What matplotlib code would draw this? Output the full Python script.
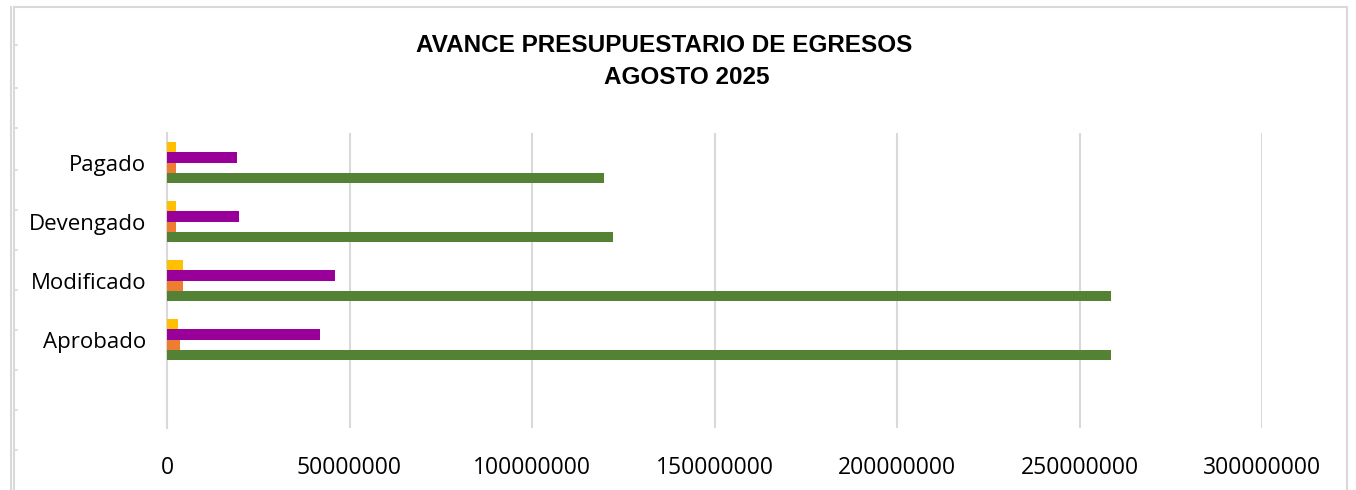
import numpy as np
from matplotlib import pyplot as plt
from matplotlib.patches import Rectangle

categorias = ['', 'Aprobado', 'Modificado', 'Devengado', 'Pagado']
# series drawn bottom to top inside each group
serie_verde = [0, 258500000, 258500000, 122200000, 119700000]
serie_naranja = [0, 3600000, 4300000, 2600000, 2600000]
serie_morada = [0, 41900000, 46000000, 19700000, 19200000]
serie_amarilla = [0, 3100000, 4300000, 2600000, 2600000]
colores = ['#548235', '#ED7D31', '#990099', '#FFC000']
xticks = [0, 50000000, 100000000, 150000000, 200000000, 250000000, 300000000]

fig = plt.figure(figsize=(13.56, 4.9), dpi=100)
ax = fig.add_axes([167/1356, 1 - 428/490, 1095/1356, 295/490])

y = np.arange(len(categorias))
h = 0.172
series = [serie_verde, serie_naranja, serie_morada, serie_amarilla]
for i in range(len(series)):
    vals = np.array(series[i], dtype=float)
    mask = np.arange(len(vals)) > 0
    ax.barh(y[mask] + (i - 1.5) * h, vals[mask], height=h, color=colores[i], zorder=3)

ax.set_xlim(0, 300000000)
ax.set_ylim(-0.5, 4.5)
ax.set_xticks(xticks)
ax.set_xticklabels([str(t) for t in xticks], fontsize=16.5, family='Open Sans')
ax.set_yticks(y[1:])
ax.set_yticklabels(categorias[1:], fontsize=16, family='Open Sans')
ax.tick_params(axis='both', length=0)
ax.tick_params(axis='x', pad=20)
ax.tick_params(axis='y', pad=15)
ax.grid(axis='x', color='#D9D9D9', linewidth=1.5, zorder=0)
for s in ['top', 'right', 'bottom']:
    ax.spines[s].set_visible(False)
ax.spines['left'].set_color('#D9D9D9')
ax.spines['left'].set_linewidth(1.5)

fig.text(664/1356, 1 - 45/490, 'AVANCE PRESUPUESTARIO DE EGRESOS', ha='center', va='center',
         fontsize=17.5, fontweight='bold', family='Liberation Sans')
fig.text(687/1356, 1 - 78/490, 'AGOSTO 2025', ha='center', va='center',
         fontsize=17.5, fontweight='bold', family='Liberation Sans')

# sheet frame around the chart
fig.patches.append(Rectangle((14/1356, -0.01), 1333/1356, 1 - 7/490 + 0.01, transform=fig.transFigure,
                             fill=False, edgecolor='#D9D9D9', linewidth=1.5))
fig.lines.append(plt.Line2D([11/1356, 11/1356], [0, 1 - 7/490], transform=fig.transFigure,
                            color='#D9D9D9', linewidth=1.5))
for ty in [45, 88, 128, 170, 210, 250, 290, 330, 370, 410, 450]:
    fig.lines.append(plt.Line2D([14/1356, 17/1356], [1 - ty/490, 1 - ty/490], transform=fig.transFigure,
                                color='#D9D9D9', linewidth=1.2))

plt.savefig('out.png', dpi=100)
